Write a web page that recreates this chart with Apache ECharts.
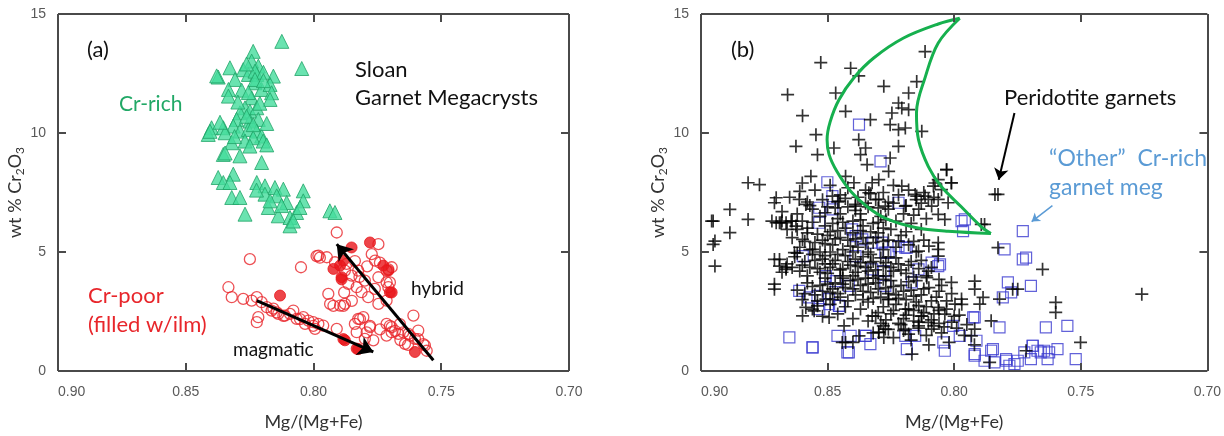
<!DOCTYPE html>
<html>
<head>
<meta charset="utf-8">
<script src="https://cdn.jsdelivr.net/npm/echarts@6/dist/echarts.min.js"></script>
<style>
  html, body { margin: 0; padding: 0; background: #fff; }
  #chartContainer { width: 1224px; height: 436px; }
</style>
</head>
<body>
<div id="chartContainer"></div>
<script>
// axes (both panels)
const xMin = 0.70, xMax = 0.90, xStep = 0.05;
const yMin = 0, yMax = 15, yStep = 5;
const xTickValues = [0.85, 0.80, 0.75];
const yTickValues = [5, 10];

// (a) Sloan garnet megacrysts
const crRich = [
  [0.8124,13.85],[0.8046,12.71],[0.8236,13.43],[0.8373,12.35],[0.8327,12.74],[0.8275,12.66],[0.8242,13.02],
  [0.8216,12.81],[0.8157,12.39],[0.8307,12.25],[0.8255,12.46],[0.8222,12.46],[0.8333,11.83],[0.8333,11.55],
  [0.8229,12.11],[0.8203,11.83],[0.8170,12.04],[0.8164,11.69],[0.8170,11.41],[0.8242,11.48],[0.8268,11.06],
  [0.8288,10.85],[0.8249,10.92],[0.8222,11.06],[0.8216,10.57],[0.8249,10.50],[0.8301,10.57],[0.8314,10.29],
  [0.8399,10.22],[0.8412,9.94],[0.8353,10.22],[0.8346,10.01],[0.8288,10.08],[0.8255,10.15],[0.8222,10.08],
  [0.8203,9.87],[0.8236,9.80],[0.8268,9.66],[0.8320,9.59],[0.8197,9.66],[0.8353,9.10],[0.8288,9.04],
  [0.8203,8.76],[0.8373,8.13],[0.8353,7.92],[0.8314,8.27],[0.8327,7.92],[0.8222,7.92],[0.8190,7.78],
  [0.8151,7.71],[0.8118,7.64],[0.8040,7.57],[0.8320,7.29],[0.8288,7.29],[0.8190,7.43],[0.8144,7.36],
  [0.8105,7.08],[0.8040,7.15],[0.8177,6.87],[0.8268,6.59],[0.8138,6.52],[0.8092,6.45],[0.8066,6.66],
  [0.8092,6.10],[0.8053,6.87],[0.7936,6.73],[0.7916,6.66],[0.8379,12.40],[0.8405,10.07],[0.8346,9.16],
  [0.8229,12.60],[0.8262,12.90],[0.8196,12.55],[0.8281,11.80],[0.8210,11.25],[0.8296,11.30],[0.8262,10.70],
  [0.8236,10.35],[0.8183,10.40],[0.8309,9.85],[0.8249,9.45],[0.8183,9.50],[0.8366,10.45],[0.8229,12.25],
  [0.8196,12.20],[0.8255,11.70],[0.8125,6.95],[0.8079,6.30],[0.8170,7.15],[0.8223,7.60]
];
const crPoorOpen = [
  [0.8249,4.70],[0.8049,4.36],[0.7909,5.82],[0.7746,5.33],[0.7981,4.85],[0.7948,4.78],[0.7916,4.57],
  [0.7772,4.91],[0.7759,4.64],[0.7877,4.22],[0.7851,4.01],[0.7825,4.22],[0.7799,3.80],[0.7864,3.66],
  [0.7831,3.52],[0.7746,3.94],[0.7714,4.22],[0.7714,3.73],[0.7694,4.36],[0.7812,3.31],[0.7786,3.10],
  [0.7746,2.82],[0.7942,3.24],[0.7935,2.82],[0.7896,2.75],[0.7877,2.82],[0.7707,3.52],[0.7714,2.96],
  [0.7825,2.19],[0.7805,2.26],[0.7838,1.98],[0.7779,1.84],[0.7831,1.63],[0.7799,1.35],[0.7766,1.29],
  [0.7909,1.77],[0.7714,1.98],[0.7694,1.84],[0.7668,1.56],[0.7629,1.56],[0.7609,2.33],[0.7590,1.70],
  [0.7603,1.35],[0.7564,1.08],[0.7642,1.14],[0.7714,1.49],[0.7694,1.63],
  [0.8333,3.52],[0.8320,3.10],[0.8275,3.03],[0.8242,2.96],[0.8222,3.10],[0.8203,2.89],[0.8216,2.26],
  [0.8222,2.05],[0.8183,2.68],[0.8164,2.54],[0.8138,2.40],[0.8079,2.54],[0.8066,2.19],[0.8040,2.26],
  [0.8020,2.12],[0.8001,2.05],[0.7981,1.98],[0.7962,1.91],[0.7994,1.77],[0.8033,1.98],[0.8112,2.33],
  [0.8118,2.32],[0.8144,2.46],[0.8053,2.18],[0.7988,4.83],[0.8001,1.90],[0.8092,2.40],[0.8157,2.62],
  [0.7975,4.76],[0.7707,4.27],[0.7701,3.72],[0.7922,2.74],[0.7883,2.74],[0.7818,2.18],[0.7779,1.90],
  [0.7701,1.90],[0.7681,1.69],[0.7649,1.62],[0.7622,1.48],[0.7590,1.34],[0.7570,1.13],[0.7557,0.85],
  [0.7792,1.62],[0.7662,1.97],[0.7870,4.50],[0.7838,4.62],[0.7790,4.40],[0.7740,4.55],[0.7820,3.95],
  [0.7880,3.30],[0.7760,3.45],[0.7850,2.95],[0.7660,1.30],[0.7630,1.10],[0.7740,1.75]
];
const crPoorFilled = [
  [0.8131,3.17],[0.7851,5.19],[0.7779,5.40],[0.7922,4.29],[0.7890,3.94],[0.7883,4.64],[0.7727,4.43],
  [0.7701,3.31],[0.7877,1.29],[0.7831,0.94],[0.7603,0.80],[0.7707,4.22],[0.7896,4.43],[0.7890,3.85],
  [0.7694,3.30],[0.7883,1.34],[0.7825,0.92]
];
const arrowMagmatic = [[0.8222,2.96],[0.7766,0.80]];
const arrowHybrid = [[0.7531,0.45],[0.7909,5.33]];

// (b) comparison
const peridotite = [
  // sparse crosses
  [0.8115,13.42],[0.8527,12.96],[0.8409,12.72],[0.8377,12.40],[0.8658,11.61],[0.8468,11.68],[0.8278,11.96],
  [0.8148,12.16],[0.8180,11.68],[0.8220,11.26],[0.8207,11.05],[0.8180,10.98],[0.8246,10.84],[0.8429,10.91],
  [0.8599,10.73],[0.8331,10.56],[0.8253,10.35],[0.8220,10.14],[0.8193,10.21],[0.8128,10.07],[0.8546,9.93],
  [0.8377,9.72],[0.8220,9.44],[0.8625,9.44],[0.8475,9.37],[0.8540,9.09],[0.8350,9.37],[0.8370,9.09],
  [0.8344,8.67],[0.8253,8.95],[0.8030,8.46],[0.8566,8.18],[0.8814,7.91],[0.8769,7.83],[0.8259,8.39],
  [0.8298,8.04],[0.8324,7.91],[0.8429,8.18],[0.8396,7.91],[0.8063,8.04],[0.8011,7.91],[0.8082,7.77],
  [0.8207,7.77],[0.8154,7.42],[0.8115,7.35],[0.8703,7.28],[0.8710,7.07],[0.8612,7.21],[0.8586,7.00],
  [0.8886,6.79],[0.8814,6.37],[0.8958,6.30],[0.8690,6.23],[0.8481,7.35],[0.8455,7.14],[0.8390,6.93],
  [0.8337,7.49],[0.8298,7.21],[0.8272,6.93],[0.8193,6.93],[0.8089,6.93],[0.8063,6.58],[0.8037,6.37],
  [0.7893,6.16],[0.7839,7.42],[0.8030,8.46],[0.8076,7.90],[0.8011,7.90],[0.8050,7.62],[0.8102,7.21],
  [0.8063,7.21],[0.8024,7.07],[0.7827,7.42],
  [0.8952,6.30],[0.8886,5.81],[0.8945,5.46],[0.8952,5.32],[0.8945,4.41],[0.8684,6.23],[0.8644,6.30],
  [0.8690,4.69],[0.8664,4.34],[0.8710,3.65],[0.8710,3.44],[0.8586,2.67],[0.8553,2.53],[0.8494,2.25],
  [0.8442,1.20],[0.8376,1.48],[0.8298,1.62],[0.8278,1.41],[0.8167,0.71],[0.8193,1.76],[0.8141,1.90],
  [0.8037,2.39],[0.8063,2.67],[0.7997,2.81],[0.7971,3.02],[0.7919,3.78],[0.7919,3.44],[0.8011,3.72],
  [0.7919,1.76],[0.7932,1.48],[0.7899,2.81],[0.7886,3.09],[0.7854,2.11],[0.7821,3.02],[0.7827,5.18],
  [0.7651,4.27],[0.7769,3.44],[0.7749,3.44],[0.7599,2.88],[0.7599,2.46],[0.7501,1.20],[0.7716,0.85],
  [0.7860,0.36],[0.8063,5.11],[0.8063,5.39],[0.8063,4.83],[0.8141,5.04],[0.8102,4.20],[0.8108,3.92],
  [0.8148,7.35],[0.7880,6.16],[0.7259,3.23],[0.8710,4.69],[0.8690,4.41],[0.8664,4.27],[0.8631,4.97],
  [0.8599,5.53],[0.8559,5.11],[0.8599,2.32],[0.8540,2.74],[0.8507,3.02],[0.8429,1.20],[0.8435,1.90],
  [0.8324,2.32],[0.8298,1.62],[0.8272,1.76],[0.8259,3.02],[0.8193,2.60],[0.8128,2.32],[0.8102,2.04],
  [0.8089,1.76],[0.8703,6.23],[0.8664,6.23],[0.8625,6.09],
  // dense core
  [0.860,7.9],[0.855,7.6],[0.849,7.8],[0.845,7.4],[0.842,7.7],[0.838,7.3],[0.835,7.6],[0.831,7.2],
  [0.828,7.5],[0.826,7.1],[0.822,7.4],[0.818,7.6],[0.815,7.2],[0.812,7.5],[0.852,7.2],[0.858,7.1],
  [0.865,7.3],[0.846,7.1],[0.839,7.0],[0.824,7.8],[0.808,7.3],
  [0.872,6.3],[0.868,6.3],[0.864,6.3],[0.860,6.3],[0.856,6.8],[0.853,6.5],[0.850,6.9],[0.848,6.2],
  [0.845,6.6],[0.842,6.9],[0.840,6.3],[0.837,6.6],[0.834,6.9],[0.832,6.2],[0.829,6.5],[0.826,6.8],
  [0.823,6.3],[0.820,6.6],[0.817,6.2],[0.814,6.8],[0.811,6.4],[0.858,6.0],[0.851,6.1],[0.843,6.0],
  [0.836,6.1],[0.828,6.0],[0.868,6.7],[0.862,6.6],[0.846,6.4],
  [0.864,5.6],[0.861,5.2],[0.858,5.8],[0.855,5.4],[0.853,5.0],[0.850,5.7],[0.848,5.3],[0.846,5.9],
  [0.844,5.1],[0.842,5.5],[0.840,5.8],[0.838,5.2],[0.836,5.6],[0.834,5.0],[0.832,5.4],[0.830,5.8],
  [0.828,5.1],[0.826,5.5],[0.823,5.2],[0.821,5.7],[0.818,5.3],[0.815,5.0],[0.812,5.5],[0.857,5.1],
  [0.849,5.0],[0.840,5.0],[0.845,5.6],[0.831,5.6],[0.837,5.9],[0.852,5.5],
  [0.866,4.5],[0.863,4.8],[0.861,4.2],[0.859,4.6],[0.856,4.9],[0.854,4.3],[0.852,4.7],[0.850,4.1],
  [0.848,4.5],[0.846,4.9],[0.844,4.3],[0.842,4.6],[0.840,4.0],[0.838,4.4],[0.836,4.8],[0.834,4.2],
  [0.832,4.6],[0.830,4.0],[0.828,4.4],[0.826,4.8],[0.824,4.2],[0.822,4.5],[0.819,4.1],[0.817,4.6],
  [0.814,4.3],[0.811,4.0],[0.858,4.0],[0.845,4.0],[0.833,4.9],[0.851,4.5],[0.839,4.7],[0.827,4.0],
  [0.862,3.4],[0.858,3.7],[0.855,3.2],[0.853,3.6],[0.851,3.9],[0.849,3.3],[0.847,3.7],[0.845,3.1],
  [0.843,3.5],[0.841,3.8],[0.839,3.2],[0.837,3.6],[0.835,3.9],[0.833,3.3],[0.831,3.7],[0.829,3.1],
  [0.827,3.5],[0.825,3.8],[0.823,3.2],[0.821,3.6],[0.819,3.0],[0.817,3.4],[0.815,3.8],[0.813,3.2],
  [0.810,3.5],[0.807,3.1],[0.805,3.6],[0.860,3.0],[0.848,3.0],[0.836,3.0],[0.826,3.0],[0.844,3.9],
  [0.832,3.9],
  [0.856,2.6],[0.852,2.3],[0.849,2.8],[0.846,2.4],[0.843,2.7],[0.840,2.2],[0.837,2.6],[0.834,2.9],
  [0.831,2.3],[0.828,2.7],[0.825,2.4],[0.823,2.8],[0.820,2.2],[0.818,2.6],[0.815,2.9],[0.813,2.3],
  [0.811,2.7],[0.808,2.4],[0.806,2.0],[0.803,2.6],[0.800,2.3],[0.797,2.8],[0.822,2.0],[0.816,2.1],
  [0.834,2.1],[0.829,2.0],
  [0.832,1.6],[0.828,1.9],[0.824,1.4],[0.820,1.7],[0.817,1.3],[0.814,1.8],[0.811,1.5],[0.808,1.9],
  [0.805,1.6],[0.802,1.2],[0.799,1.8],[0.796,1.5],[0.792,1.1],[0.840,1.2],[0.810,1.1],
  // more of the dense core
  [0.857,6.95],[0.851,6.65],[0.847,6.85],[0.843,7.25],[0.839,6.75],[0.835,7.05],[0.830,6.85],[0.827,6.35],
  [0.824,7.05],[0.819,6.95],[0.816,6.55],[0.813,7.05],[0.861,7.55],[0.833,7.45],
  [0.866,5.95],[0.862,5.95],[0.859,5.45],[0.856,6.25],[0.854,5.75],[0.851,5.35],[0.849,5.85],[0.847,5.55],
  [0.844,6.25],[0.841,5.25],[0.839,5.55],[0.837,6.35],[0.835,5.35],[0.833,5.85],[0.830,6.25],[0.828,5.45],
  [0.825,5.95],[0.822,5.45],[0.819,5.85],[0.816,5.45],[0.813,5.95],[0.810,5.25],
  [0.868,4.15],[0.864,4.35],[0.862,4.95],[0.860,4.45],[0.857,4.35],[0.855,4.65],[0.853,4.15],[0.851,4.85],
  [0.849,4.35],[0.847,4.65],[0.845,4.25],[0.843,4.85],[0.841,4.45],[0.839,4.15],[0.837,4.55],[0.835,4.35],
  [0.833,4.55],[0.831,4.25],[0.829,4.75],[0.827,4.55],[0.825,4.35],[0.823,4.75],[0.821,4.25],[0.818,4.45],
  [0.816,3.95],[0.813,4.65],[0.809,4.35],[0.806,3.85],
  [0.859,3.25],[0.856,3.55],[0.854,2.95],[0.852,3.35],[0.850,3.65],[0.848,3.45],[0.846,3.25],[0.844,3.65],
  [0.842,2.95],[0.840,3.45],[0.838,3.85],[0.836,3.35],[0.834,3.65],[0.832,3.05],[0.830,3.45],[0.828,3.85],
  [0.826,3.25],[0.824,3.55],[0.822,3.05],[0.820,3.35],[0.818,3.75],[0.816,3.15],[0.814,2.75],[0.812,3.45],
  [0.809,2.95],[0.806,3.35],[0.803,2.95],[0.801,3.25],
  [0.830,2.45],[0.827,2.15],[0.824,2.55],[0.821,1.95],[0.819,2.35],[0.816,2.55],[0.814,2.05],[0.812,2.45],
  [0.809,2.15],[0.806,2.55],[0.804,1.85],[0.801,2.05],[0.798,2.35],[0.795,1.95],[0.826,1.75],[0.818,1.55]
];
const otherCrRich = [
  [0.8651,1.41],[0.8559,0.99],[0.8461,1.48],[0.8416,0.78],[0.8409,1.48],[0.8350,1.48],[0.8331,1.13],
  [0.8193,1.48],[0.8187,0.92],[0.8154,1.48],[0.8043,1.20],[0.8037,0.85],[0.7978,1.48],[0.8004,1.90],
  [0.7925,2.25],[0.7919,0.71],[0.7912,1.27],[0.7880,0.43],[0.7847,0.92],[0.7821,1.83],[0.7795,0.50],
  [0.7762,0.29],[0.7723,0.78],[0.7690,1.06],[0.7671,0.85],[0.7645,0.85],[0.7638,1.83],[0.7625,0.78],
  [0.7592,0.92],[0.7553,1.90],[0.7520,0.50],[0.7631,0.50],[0.7697,0.50],[0.7749,0.43],[0.7782,0.22],
  [0.7801,5.11],[0.7729,5.88],[0.7729,4.69],[0.7716,4.76],[0.7788,3.72],[0.7697,3.58],[0.7775,3.30],
  [0.7808,3.09],[0.7971,6.30],[0.7965,5.88],[0.8063,4.41],[0.8187,5.18],[0.8220,7.07],
  [0.8612,3.37],[0.8573,3.09],[0.8540,3.16],[0.8494,2.81],[0.8455,2.74],[0.8533,2.60],[0.8403,5.95],
  [0.8363,5.53],[0.8324,5.39],[0.8272,4.97],[0.8220,5.25],[0.8390,4.83],[0.8324,4.27],[0.8278,4.20],
  [0.8167,3.72],[0.8141,4.27],[0.8272,3.58],[0.8416,3.58],[0.8468,3.78],[0.8507,3.99],[0.8598,4.83],
  [0.8533,6.23],[0.8481,6.79],[0.8481,7.35],[0.8389,5.67],[0.8285,5.39],[0.8193,5.18],[0.8089,4.55],
  [0.8259,4.97],[0.8501,7.93],[0.8533,6.86],[0.8376,10.35],[0.8291,8.81],[0.7958,6.37],[0.8056,4.48],
  [0.7854,0.85],[0.7841,0.36],[0.7919,0.64],[0.7919,2.25],[0.7795,0.43],[0.7690,1.06],[0.7658,0.78],
  [0.8494,3.02],[0.8455,2.74],[0.8560,0.99],[0.8422,0.78],[0.8350,1.48]
];
const crescentOuter = [
  [0.7978,14.82],[0.8063,14.58],[0.8200,13.99],[0.8318,13.15],[0.8396,12.32],[0.8455,11.40],[0.8490,10.47],
  [0.8502,9.72],[0.8494,9.09],[0.8463,8.38],[0.8408,7.54],[0.8345,6.91],[0.8271,6.41],[0.8153,6.03],
  [0.8024,5.87],[0.7855,5.78]
];
const crescentInner = [
  [0.7855,5.78],[0.7894,6.07],[0.7973,6.91],[0.8051,7.75],[0.8102,8.59],[0.8141,9.72],[0.8149,10.85],
  [0.8114,12.36],[0.8063,13.78],[0.7978,14.82]
];
const arrowPeridotite = [[0.7762,10.84],[0.7824,8.04]];
const arrowOther = [[0.7612,6.95],[0.7694,6.28]];

const crossPath = 'path://M0,5L10,5M5,0L5,10';
const labelFont = 'Liberation Sans, Arial, sans-serif';
const textFont = 'Lato, "Open Sans", sans-serif';
const frameColor = '#4a4a4a';

function xAxes(gi) {
  return [
    {
      gridIndex: gi, type: 'value', min: xMin, max: xMax, interval: xStep, inverse: true,
      position: 'bottom',
      name: 'Mg/(Mg+Fe)', nameLocation: 'middle', nameGap: 42,
      nameTextStyle: { fontFamily: textFont, fontSize: 18, color: '#333' },
      axisLine: { show: false }, axisTick: { show: false },
      axisLabel: { fontFamily: labelFont, fontSize: 14, color: '#595959', margin: 14,
        alignMaxLabel: 'left', formatter: v => v.toFixed(2) },
      splitLine: { show: false }
    }
  ];
}
function yAxes(gi) {
  return [
    {
      gridIndex: gi, type: 'value', min: yMin, max: yMax, interval: yStep, position: 'left',
      name: 'wt % Cr{s|2}O{s|3}', nameLocation: 'middle', nameGap: 28, nameRotate: 90,
      nameTextStyle: { fontFamily: textFont, fontSize: 18, color: '#333',
        rich: { s: { fontFamily: textFont, fontSize: 12, color: '#333', padding: [10, 0, 0, 0] } } },
      axisLine: { show: false }, axisTick: { show: false },
      axisLabel: { fontFamily: labelFont, fontSize: 14, color: '#595959', margin: 12 },
      splitLine: { show: false }
    }
  ];
}

function txt(x, y, text, size, color) {
  return { type: 'text', x: x, y: y, silent: true,
    style: { text: text, font: size + 'px ' + textFont, fill: color, verticalAlign: 'middle' } };
}

function arrow(color, width, head, pairs) {
  return {
    silent: true, symbol: ['none', 'arrow'], symbolSize: head, label: { show: false },
    lineStyle: { color: color, width: width, type: 'solid' },
    emphasis: { disabled: true },
    data: pairs.map(p => [{ coord: p[0] }, { coord: p[1] }])
  };
}

// frame box + inward ticks as data-space segments (8px long ticks)
const tickDx = (xMax - xMin) * 8 / 511;
const tickDy = (yMax - yMin) * 8 / 358;
function frameSegments() {
  const segs = [
    [[xMax, yMin], [xMin, yMin]], [[xMax, yMax], [xMin, yMax]],
    [[xMax, yMin], [xMax, yMax]], [[xMin, yMin], [xMin, yMax]]
  ];
  xTickValues.forEach(v => {
    segs.push([[v, yMin], [v, yMin + tickDy]]);
    segs.push([[v, yMax], [v, yMax - tickDy]]);
  });
  yTickValues.forEach(v => {
    segs.push([[xMax, v], [xMax - tickDx, v]]);
    segs.push([[xMin, v], [xMin + tickDx, v]]);
  });
  return {
    silent: true, symbol: ['none', 'none'], label: { show: false },
    lineStyle: { color: frameColor, width: 2, type: 'solid' },
    emphasis: { disabled: true },
    data: segs.map(s => [{ coord: s[0] }, { coord: s[1] }])
  };
}

const chart = echarts.init(document.getElementById('chartContainer'), null, { renderer: 'canvas' });

chart.setOption({
  animation: false,
  backgroundColor: '#fff',
  grid: [
    { left: 58, top: 14, width: 511, height: 358 },
    { left: 701, top: 14, width: 510, height: 358 }
  ],
  xAxis: xAxes(0).concat(xAxes(1)),
  yAxis: yAxes(0).concat(yAxes(1)),
  series: [
    {
      name: 'Cr-rich', type: 'scatter', xAxisIndex: 0, yAxisIndex: 0, data: crRich,
      symbol: 'triangle', symbolSize: 14,
      itemStyle: { color: '#45dc9c', borderColor: '#20a468', borderWidth: 1 },
      markLine: frameSegments()
    },
    {
      name: 'Cr-poor', type: 'scatter', xAxisIndex: 0, yAxisIndex: 0, data: crPoorOpen,
      symbol: 'circle', symbolSize: 11,
      itemStyle: { color: 'rgba(255,255,255,0)', borderColor: '#e8262b', borderWidth: 1.3 }
    },
    {
      name: 'Cr-poor w/ilm', type: 'scatter', xAxisIndex: 0, yAxisIndex: 0, data: crPoorFilled,
      symbol: 'circle', symbolSize: 11,
      itemStyle: { color: '#e8161c', borderColor: '#e8161c', borderWidth: 1 },
      markLine: arrow('#000', 3, 15, [arrowMagmatic, arrowHybrid])
    },
    {
      name: 'Other Cr-rich', type: 'scatter', xAxisIndex: 1, yAxisIndex: 1, data: otherCrRich,
      symbol: 'rect', symbolSize: 11,
      itemStyle: { color: 'rgba(255,255,255,0)', borderColor: '#3b3bd0', borderWidth: 1.2 },
      markLine: arrow('#5b9bd5', 1.5, 8, [arrowOther])
    },
    {
      name: 'Peridotite', type: 'scatter', xAxisIndex: 1, yAxisIndex: 1, data: peridotite,
      symbol: crossPath, symbolSize: 13,
      itemStyle: { color: 'rgba(0,0,0,0)', borderColor: '#000', borderWidth: 1.7 },
      markLine: arrow('#000', 2, 11, [arrowPeridotite])
    },
    {
      name: 'field outer', type: 'line', xAxisIndex: 1, yAxisIndex: 1, data: crescentOuter,
      showSymbol: false, smooth: 0.35, silent: true,
      lineStyle: { color: '#16b04e', width: 3 },
      markLine: frameSegments()
    },
    {
      name: 'field inner', type: 'line', xAxisIndex: 1, yAxisIndex: 1, data: crescentInner,
      showSymbol: false, smooth: 0.35, silent: true,
      lineStyle: { color: '#16b04e', width: 3 }
    }
  ],
  graphic: [
    txt(87, 50, '(a)', 22, '#111'),
    txt(119, 104, 'Cr-rich', 21, '#21a866'),
    txt(355, 70, 'Sloan', 22, '#111'),
    txt(355, 98, 'Garnet Megacrysts', 22, '#111'),
    txt(88, 296, 'Cr-poor', 22, '#e8262b'),
    txt(88, 325, '(filled w/ilm)', 22, '#e8262b'),
    txt(233, 350, 'magmatic', 19, '#111'),
    txt(411, 289, 'hybrid', 19, '#111'),
    txt(731, 50, '(b)', 22, '#111'),
    txt(1004, 98, 'Peridotite garnets', 22, '#111'),
    txt(1049, 159, '\u201cOther\u201d  Cr-rich', 23, '#5b9bd5'),
    txt(1049, 188, 'garnet meg', 23, '#5b9bd5')
  ]
});
</script>
</body>
</html>
